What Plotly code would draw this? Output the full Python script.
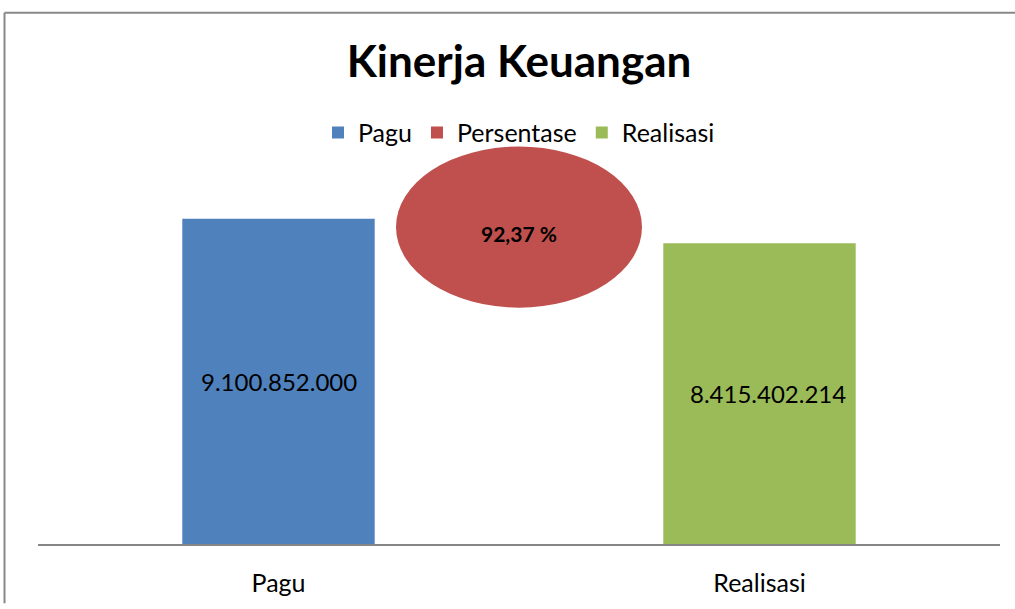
import plotly.graph_objects as go

# ---- data ----
categories = ["Pagu", "Realisasi"]
pagu_values = [9100852000]
realisasi_values = [8415402214]
pagu_labels = ["9.100.852.000"]
realisasi_labels = ["8.415.402.214"]
persentase_value = 92.37
persentase_label = "92,37 %"
legend_names = ["Pagu", "Persentase", "Realisasi"]

# ---- style ----
BLUE = "#4F81BD"
RED = "#C0504D"
GREEN = "#9BBB59"
FONT = "Lato"
W, H = 1015, 609
ML, MR, MT, MB = 38, 15, 115, 60
Y_MAX = 1.2e10
BAR_W = 0.4
ELL_CX, ELL_CY = 0.5, 8.865e9      # ellipse centre (x category units, y value units)
ELL_RX, ELL_RY = 0.2557, 2.254e9   # ellipse semi-axes

fig = go.Figure()
fig.add_trace(go.Bar(
    x=[categories[0]], y=pagu_values, name=legend_names[0],
    marker=dict(color=BLUE, line=dict(width=0)), width=BAR_W, hoverinfo="skip",
))
fig.add_trace(go.Bar(
    x=[None], y=[None], name=legend_names[1],
    marker=dict(color=RED, line=dict(width=0)), hoverinfo="skip",
))
fig.add_trace(go.Bar(
    x=[categories[1]], y=realisasi_values, name=legend_names[2],
    marker=dict(color=GREEN, line=dict(width=0)), width=BAR_W, hoverinfo="skip",
))

# data labels centred in bars
for cat, vals, labs, xs in ((categories[0], pagu_values, pagu_labels, 0),
                            (categories[1], realisasi_values, realisasi_labels, 8)):
    fig.add_annotation(x=cat, y=vals[0] / 2, xref="x", yref="y", text=labs[0],
                       showarrow=False, xshift=xs,
                       font=dict(family=FONT, size=24, color="black"))

# persentase ellipse
fig.add_shape(type="circle", xref="x", yref="y",
              x0=ELL_CX - ELL_RX, x1=ELL_CX + ELL_RX,
              y0=ELL_CY - ELL_RY, y1=ELL_CY + ELL_RY,
              fillcolor=RED, line=dict(width=0), layer="above")
fig.add_annotation(x=ELL_CX, y=ELL_CY, xref="x", yref="y", text="<b>" + persentase_label + "</b>",
                   showarrow=False, yshift=-6, font=dict(family=FONT, size=21, color="black"))

# outer border (left + top)
pw = W - ML - MR
ph = H - MT - MB
lx = (4.5 - ML) / pw
ty = (H - MB - 11.5) / ph
rx = (W - ML) / pw
by = -MB / ph
fig.add_shape(type="line", xref="paper", yref="paper", x0=lx, x1=rx, y0=ty, y1=ty,
              line=dict(color="#888888", width=2))
fig.add_shape(type="line", xref="paper", yref="paper", x0=lx, x1=lx, y0=ty, y1=by,
              line=dict(color="#888888", width=2))

fig.update_layout(
    width=W, height=H,
    margin=dict(l=ML, r=MR, t=MT, b=MB),
    paper_bgcolor="white", plot_bgcolor="white",
    barmode="overlay",
    title=dict(text="<b>Kinerja Keuangan</b>", x=0.5, xref="paper", xanchor="center",
               y=1 - 62 / H, yref="container", yanchor="middle",
               font=dict(family=FONT, size=44, color="black")),
    legend=dict(orientation="h", x=0.5, xanchor="center", xref="paper",
                y=(H - MB - 133) / ph, yanchor="middle",
                font=dict(family=FONT, size=25, color="black"),
                bgcolor="rgba(0,0,0,0)", itemclick=False, traceorder="normal"),
    xaxis=dict(type="category", categoryorder="array", categoryarray=categories,
               range=[-0.5, 1.5], showgrid=False, showline=True, linecolor="#868686", linewidth=2,
               ticks="", ticklabelstandoff=16,
               tickfont=dict(family=FONT, size=25, color="black"), zeroline=False),
    yaxis=dict(range=[0, Y_MAX], visible=False, showgrid=False, zeroline=False),
    showlegend=True,
)

fig.write_html("out.html", config={"displayModeBar": False},
               post_script="document.body.style.margin='0';document.body.style.overflow='hidden';")
